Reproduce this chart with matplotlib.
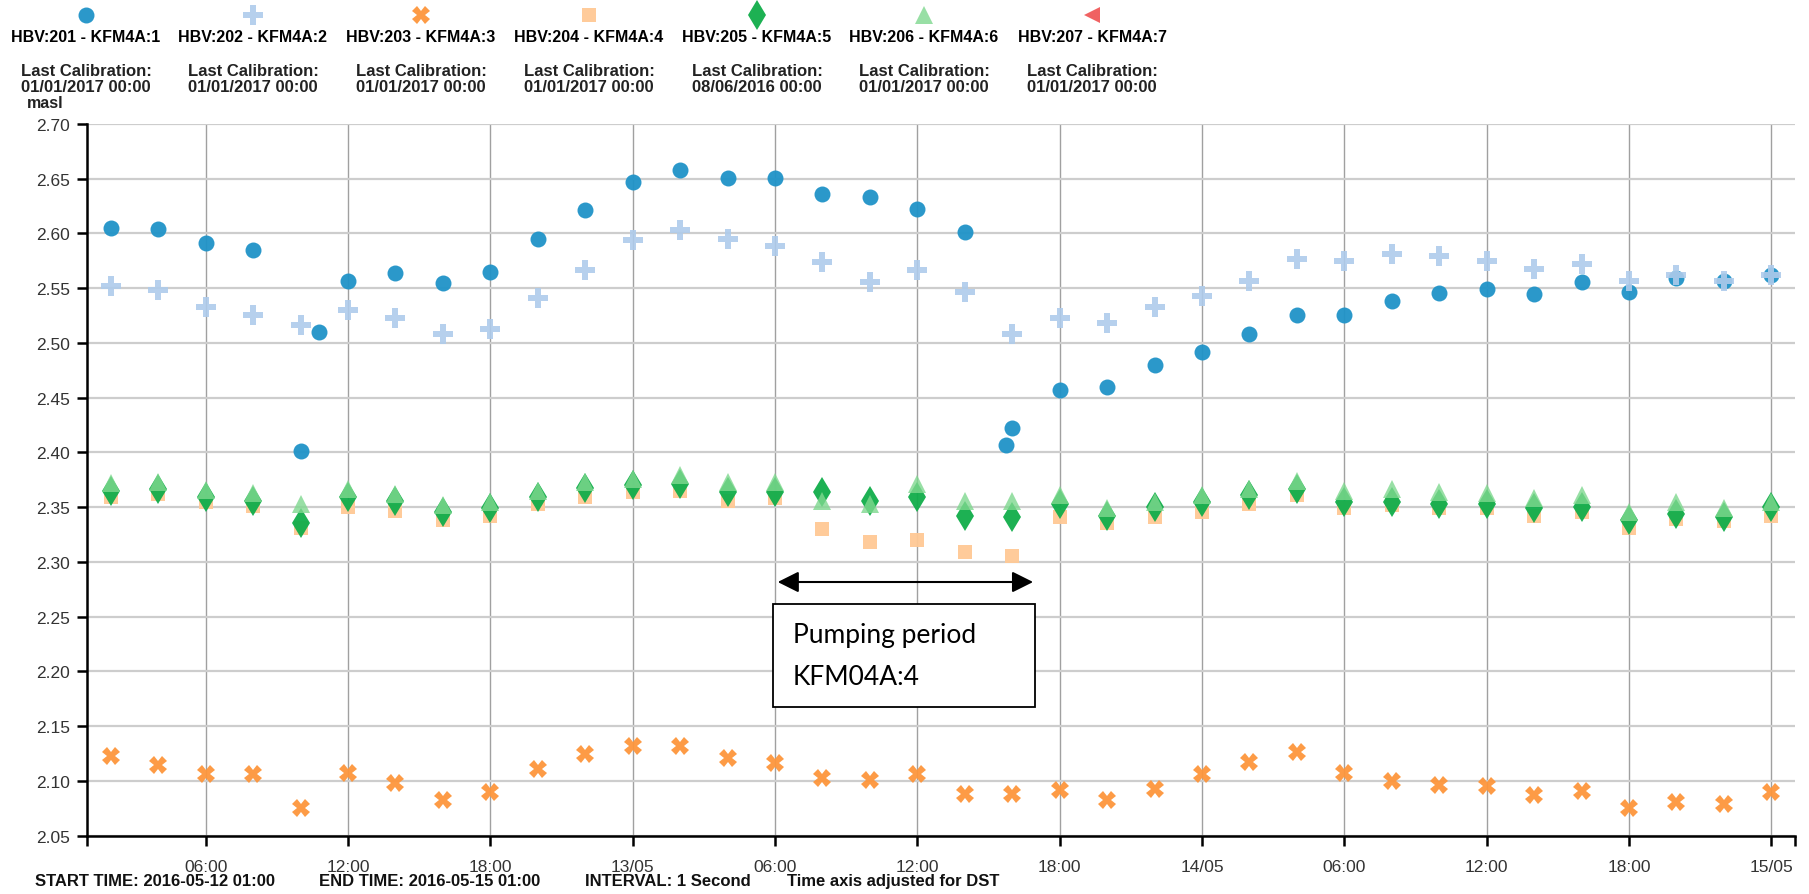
import matplotlib
matplotlib.use('Agg')
import matplotlib.pyplot as plt
from matplotlib.lines import Line2D
from matplotlib.patches import Rectangle

plt.rcParams['font.family'] = ['Liberation Sans', 'DejaVu Sans']

# hours since 2016-05-12 00:00, one reading every 2 hours
hours = list(range(2, 73, 2))
# HBV:201 has two extra readings in the pumping dips
hours_201 = [2, 4, 6, 8, 10, 10.8, 12, 14, 16, 18, 20, 22, 24, 26, 28, 30, 32, 34, 36, 38,
             39.75, 40, 42, 44, 46, 48, 50, 52, 54, 56, 58, 60, 62, 64, 66, 68, 70, 72]

hbv201 = [2.605, 2.604, 2.591, 2.585, 2.401, 2.510, 2.557, 2.564, 2.555, 2.565, 2.595, 2.621,
          2.647, 2.658, 2.651, 2.651, 2.636, 2.633, 2.622, 2.601, 2.407, 2.422, 2.457, 2.460,
          2.480, 2.492, 2.508, 2.526, 2.526, 2.538, 2.546, 2.549, 2.545, 2.556, 2.547, 2.559,
          2.557, 2.562]
hbv202 = [2.552, 2.548, 2.533, 2.526, 2.516, 2.530, 2.523, 2.508, 2.513, 2.541, 2.567, 2.594,
          2.603, 2.595, 2.589, 2.574, 2.556, 2.567, 2.547, 2.508, 2.523, 2.518, 2.533, 2.543,
          2.557, 2.577, 2.575, 2.581, 2.579, 2.575, 2.568, 2.572, 2.557, 2.562, 2.557, 2.562]
hbv203 = [2.123, 2.115, 2.106, 2.106, 2.075, 2.107, 2.098, 2.083, 2.090, 2.111, 2.125, 2.132,
          2.132, 2.121, 2.116, 2.103, 2.101, 2.106, 2.088, 2.088, 2.092, 2.083, 2.093, 2.106,
          2.117, 2.126, 2.107, 2.100, 2.096, 2.095, 2.087, 2.091, 2.075, 2.081, 2.079, 2.090]
hbv204 = [2.359, 2.362, 2.355, 2.351, 2.331, 2.350, 2.347, 2.338, 2.342, 2.353, 2.359, 2.364,
          2.365, 2.356, 2.358, 2.330, 2.318, 2.320, 2.309, 2.305, 2.341, 2.336, 2.341, 2.346,
          2.353, 2.361, 2.349, 2.352, 2.349, 2.349, 2.342, 2.346, 2.331, 2.339, 2.337, 2.342]
hbv205 = [2.365, 2.367, 2.359, 2.356, 2.336, 2.359, 2.356, 2.346, 2.349, 2.359, 2.368, 2.370,
          2.371, 2.364, 2.364, 2.364, 2.356, 2.359, 2.342, 2.341, 2.353, 2.342, 2.350, 2.355,
          2.361, 2.367, 2.355, 2.355, 2.353, 2.353, 2.349, 2.350, 2.338, 2.344, 2.341, 2.350]
hbv206 = [2.372, 2.373, 2.366, 2.363, 2.353, 2.367, 2.362, 2.352, 2.355, 2.365, 2.373, 2.376,
          2.379, 2.373, 2.373, 2.356, 2.353, 2.371, 2.356, 2.356, 2.361, 2.349, 2.355, 2.361,
          2.367, 2.374, 2.365, 2.367, 2.364, 2.363, 2.358, 2.361, 2.346, 2.355, 2.349, 2.355]
hbv207 = []

names = ['HBV:201 - KFM4A:1', 'HBV:202 - KFM4A:2', 'HBV:203 - KFM4A:3', 'HBV:204 - KFM4A:4',
         'HBV:205 - KFM4A:5', 'HBV:206 - KFM4A:6', 'HBV:207 - KFM4A:7']
calibrations = ['01/01/2017 00:00', '01/01/2017 00:00', '01/01/2017 00:00', '01/01/2017 00:00',
                '08/06/2016 00:00', '01/01/2017 00:00', '01/01/2017 00:00']

tick_hours = [6, 12, 18, 24, 30, 36, 42, 48, 54, 60, 66, 72]
tick_labels = ['06:00', '12:00', '18:00', '13/05', '06:00', '12:00', '18:00', '14/05',
               '06:00', '12:00', '18:00', '15/05']
yticks = [2.05, 2.10, 2.15, 2.20, 2.25, 2.30, 2.35, 2.40, 2.45, 2.50, 2.55, 2.60, 2.65, 2.70]

# marker, size, colour, alpha for each logger
styles = [('o', 11.5, '#1f93c8', 0.95),
          ('P', 14, '#aecbeb', 0.9),
          ('X', 12.5, '#fd963c', 0.95),
          ('s', 10.5, '#ffc995', 0.95),
          ('d', 15.5, '#10ad4a', 0.95),
          ('^', 13.5, '#7fd88f', 0.8),
          ('<', 12, '#f05a5a', 0.95)]

series = [(hours_201, hbv201), (hours, hbv202), (hours, hbv203), (hours, hbv204),
          (hours, hbv205), (hours, hbv206), ([], hbv207)]

fig = plt.figure(figsize=(18.09, 8.95), dpi=100)
ax = fig.add_axes([87 / 1809, 1 - 836.7 / 895, (1795 - 87) / 1809, (836.7 - 125) / 895])

for (xs, ys), (m, ms, c, a) in zip(series, styles):
    ax.plot(xs, ys, linestyle='none', marker=m, markersize=ms, color=c,
            markeredgewidth=0, alpha=a, zorder=3)

ax.set_xlim(1, 73)
ax.set_ylim(2.05, 2.70)
ax.set_yticks(yticks)
ax.set_yticklabels(['%.2f' % v for v in yticks])
ax.set_xticks(tick_hours)
ax.set_xticklabels(tick_labels)
ax.set_xticks([1, 73], minor=True)

ax.grid(axis='y', color='#cdcdcd', linewidth=1.6, zorder=0)
ax.grid(axis='x', color='#a0a0a0', linewidth=1.0, zorder=0)
ax.set_axisbelow(True)

for side in ['top', 'right']:
    ax.spines[side].set_visible(False)
for side in ['left', 'bottom']:
    ax.spines[side].set_linewidth(1.8)
    ax.spines[side].set_color('black')
    ax.spines[side].set_zorder(4)

ax.tick_params(axis='both', which='both', length=7, width=1.8, color='black',
               labelsize=12.5, labelcolor='#333333')
ax.tick_params(axis='x', pad=10)
ax.tick_params(axis='y', pad=5)

# pumping period annotation
ax.annotate('', xy=(41, 2.2817), xytext=(30, 2.2817),
            arrowprops=dict(arrowstyle='<|-|>', color='black', lw=1.5, mutation_scale=32),
            zorder=5)
ax.add_patch(Rectangle((29.9, 2.1676), 11.05, 0.094, facecolor='white',
                       edgecolor='black', linewidth=1.3, zorder=5))
ax.text(30.75, 2.2342, 'Pumping period', fontsize=19, family='Lato', va='center', zorder=6)
ax.text(30.75, 2.1955, 'KFM04A:4', fontsize=19, family='Lato', va='center', zorder=6)

# legend row above the plot
col_x = [86, 253, 421, 589, 757, 924, 1092]
for x, name, cal, (m, ms, c, a) in zip(col_x, names, calibrations, styles):
    fx = x / 1809
    fig.add_artist(Line2D([fx], [1 - 16 / 895], marker=m, markersize=ms, color=c,
                          markeredgewidth=0, alpha=a, transform=fig.transFigure))
    fig.text(fx, 1 - 37 / 895, name, ha='center', va='center', fontsize=11.5, fontweight='bold')
    fig.text(fx, 1 - 71 / 895, 'Last Calibration:', ha='center', va='center',
             fontsize=12, fontweight='bold', color='#222222')
    fig.text(fx, 1 - 87 / 895, cal, ha='center', va='center', fontsize=12,
             fontweight='bold', color='#222222')

fig.text(45 / 1809, 1 - 103 / 895, 'masl', ha='center', va='center', fontsize=11.5,
         fontweight='bold', color='#222222')

# footer
footer = [(35, 'START TIME: 2016-05-12 01:00'), (319, 'END TIME: 2016-05-15 01:00'),
          (585, 'INTERVAL: 1 Second'), (787, 'Time axis adjusted for DST')]
for x, s in footer:
    fig.text(x / 1809, 1 - 882 / 895, s, ha='left', va='center', fontsize=12,
             fontweight='bold', color='#111111')

plt.savefig('out.png', dpi=100)
